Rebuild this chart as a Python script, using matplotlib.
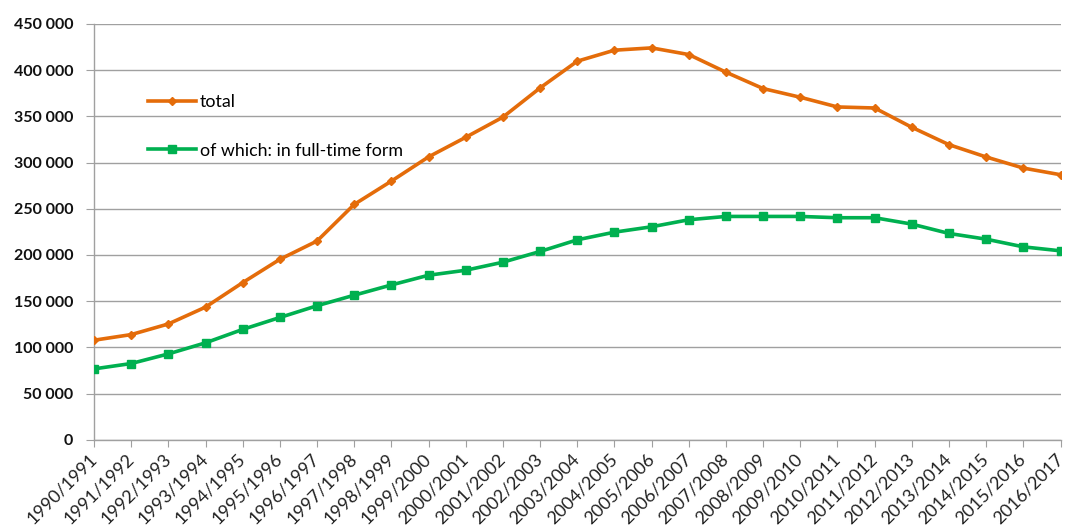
# plot.py
#   students at universities, total and full-time, 1990/1991 - 2016/2017

from matplotlib import pyplot as plt
from matplotlib.ticker import FuncFormatter, MultipleLocator

YEARS = ['1990/1991', '1991/1992', '1992/1993', '1993/1994', '1994/1995',
         '1995/1996', '1996/1997', '1997/1998', '1998/1999', '1999/2000',
         '2000/2001', '2001/2002', '2002/2003', '2003/2004', '2004/2005',
         '2005/2006', '2006/2007', '2007/2008', '2008/2009', '2009/2010',
         '2010/2011', '2011/2012', '2012/2013', '2013/2014', '2014/2015',
         '2015/2016', '2016/2017']

TOTAL = [107800, 113900, 125400, 143600, 170100, 195300, 215100, 254700,
         279900, 306100, 327300, 349100, 380700, 409600, 421500, 424000,
         416800, 397700, 380000, 370600, 360100, 359000, 338100, 319300,
         306000, 294000, 286800]

FULL_TIME = [76800, 82600, 93000, 105000, 119500, 132400, 145100, 156500,
             167600, 178100, 183500, 192200, 203800, 216400, 224700, 230500,
             238100, 241700, 241700, 241700, 240300, 240300, 233400, 223300,
             217100, 208800, 204500]

LABEL_TOTAL = 'total'
LABEL_FULL = 'of which: in full-time form'

ORANGE = '#E46C0A'
GREEN = '#00B050'
GREY = '#A0A0A0'
FONT = 'Lato'


def thousands(v, pos):
    return '{:,.0f}'.format(v).replace(',', ' ')


fig = plt.figure(figsize=(10.68, 5.30), dpi=100)
ax = fig.add_axes([0.088, 0.170, 0.905, 0.785])  # left, bottom, width, height

x = list(range(len(YEARS)))
ax.plot(x, TOTAL, color=ORANGE, lw=2.6, marker='D', ms=4.5,
        label=LABEL_TOTAL, zorder=3)
ax.plot(x, FULL_TIME, color=GREEN, lw=2.6, marker='s', ms=5.5,
        label=LABEL_FULL, zorder=3)

ax.set_xlim(0, len(YEARS) - 1)
ax.set_ylim(0, 450000)
ax.yaxis.set_major_locator(MultipleLocator(50000))
ax.yaxis.set_major_formatter(FuncFormatter(thousands))
ax.grid(axis='y', color=GREY, lw=1)
ax.set_axisbelow(True)

for s in ('top', 'right'):
    ax.spines[s].set_visible(False)
for s in ('left', 'bottom'):
    ax.spines[s].set_color(GREY)
    ax.spines[s].set_linewidth(1)

ax.set_xticks(x)
ax.set_xticklabels(YEARS, rotation=45, ha='right', va='center',
                   rotation_mode='anchor', family=FONT, fontsize=13,
                   color='#222222')
ax.tick_params(axis='x', length=5, color=GREY, pad=7)
ax.tick_params(axis='y', length=6, color=GREY, pad=9)
for t in ax.get_yticklabels():
    t.set_family(FONT)
    t.set_fontweight('bold')
    t.set_fontsize(11.5)
    t.set_color('#111111')

ax.legend(loc='upper left', bbox_to_anchor=(0.0558, 0.832), frameon=False,
          borderpad=0, borderaxespad=0,
          handlelength=2.7, handletextpad=0.22, labelspacing=1.85,
          prop={'family': FONT, 'size': 12.8})

plt.savefig('out.png', format='png')
